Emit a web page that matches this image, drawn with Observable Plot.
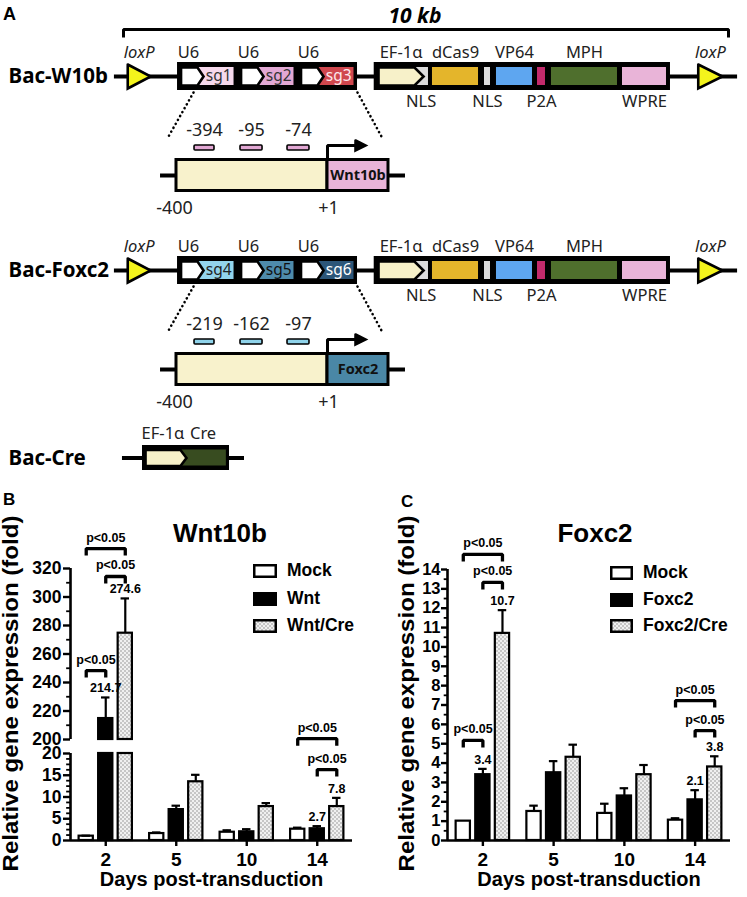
<!DOCTYPE html>
<html>
<head>
<meta charset="utf-8">
<script src="https://cdn.jsdelivr.net/npm/d3@7"></script>
<script src="https://cdn.jsdelivr.net/npm/@observablehq/plot@0.6"></script>
<style>
  html, body { margin: 0; padding: 0; background: #fff; }
  #page { position: relative; width: 747px; height: 897px; overflow: hidden; background: #fff; }
  #page svg.layer { position: absolute; left: 0; top: 0; }
  .lbl { position: absolute; white-space: nowrap; color: #000; line-height: 1; }
</style>
</head>
<body>
<svg width="0" height="0" style="position:absolute">
  <defs>
    <pattern id="dots" width="4" height="4" patternUnits="userSpaceOnUse">
      <rect width="4" height="4" fill="#c6c6c6"/>
      <circle cx="1" cy="1" r="1" fill="#fff"/>
      <circle cx="3" cy="3" r="1" fill="#fff"/>
    </pattern>
  </defs>
</svg>
<div id="page"></div>
<script>
// ======================= DATA =======================
// ---- Panel A: construct maps (x positions in kb along the 10 kb insert) ----
const insertSpanKb = [0, 10];
const insertLabel = "10 kb";
const constructNames = ["Bac-W10b", "Bac-Foxc2", "Bac-Cre"];
const backboneKb = [-0.15, 10.15];
const loxPKb = [[0.07, 0.45], [9.5, 9.9]];
const u6EdgesKb = [0.893, 1.885, 2.876, 3.868];
const sgNames = [["sg1", "sg2", "sg3"], ["sg4", "sg5", "sg6"]];
const effectorBoxKb = [4.144, 9.041];
const effectorNames   = ["EF-1α", "NLS", "dCas9", "NLS", "VP64", "P2A", "MPH", "WPRE"];
const effectorStartKb = [4.215, 4.80, 5.107, 5.967, 6.165, 6.843, 7.074, 8.248];
const effectorEndKb   = [4.96, 5.041, 5.868, 6.066, 6.76, 6.975, 8.165, 8.975];
const efNotchKb = 4.81;
const effectorLabelAbove = [true, false, true, false, true, false, true, false];
const targetGenes = ["Wnt10b", "Foxc2"];
const siteLabels = [["-394", "-95", "-74"], ["-219", "-162", "-97"]];
const siteKb = [[1.174, 1.504], [1.934, 2.298], [2.711, 3.074]];
const promoterEnds = ["-400", "+1"];
const promoterLineKb = [0.612, 4.661];
const promoterBoxKb = [0.876, 3.372];
const geneBoxKb = [3.372, 4.38];
const tssArrowKb = [3.835, 4.0];
const creLineKb = [-0.017, 2.0];
const creBoxKb = [0.314, 1.752];
const creArrowKb = [0.364, 0.942, 1.041];
const creGeneKb = [0.93, 1.70];
const creLabels = ["EF-1α", "Cre"];

// ---- Panels B & C: qPCR bars ----
const days = ["2", "5", "10", "14"];

const seriesB    = ["Mock", "Wnt", "Wnt/Cre"];
const mockB      = [1.0, 1.6, 1.9, 2.6];
const mockErrB   = [0.1, 0.25, 0.45, 0.35];
const wntB       = [214.7, 7.1, 2.0, 2.7];
const wntErrB    = [14.8, 0.9, 0.6, 0.6];
const wntCreB    = [274.6, 13.5, 7.8, 7.8];
const wntCreErrB = [24.4, 1.6, 0.8, 2.0];
const yTicksBLow  = [0, 5, 10, 15, 20];
const yMinorBLow  = [1.25, 2.5, 3.75, 6.25, 7.5, 8.75, 11.25, 12.5, 13.75, 16.25, 17.5, 18.75];
const yTicksBHigh = [200, 220, 240, 260, 280, 300, 320];
const yMinorBHigh = [210, 230, 250, 270, 290, 310];
const sigB = [
  {day: "2",  from: "Mock", to: "Wnt/Cre", level: 334},
  {day: "2",  from: "Wnt",  to: "Wnt/Cre", level: 314.4},
  {day: "2",  from: "Mock", to: "Wnt",     level: 248.4},
  {day: "14", from: "Mock", to: "Wnt/Cre", level: 23.4},
  {day: "14", from: "Wnt",  to: "Wnt/Cre", level: 16.3}
];
const labelledB = [["2", "Wnt"], ["2", "Wnt/Cre"], ["14", "Wnt"], ["14", "Wnt/Cre"]];

const seriesC      = ["Mock", "Foxc2", "Foxc2/Cre"];
const mockC        = [1.0, 1.5, 1.4, 1.05];
const mockErrC     = [0, 0.3, 0.5, 0.1];
const foxc2C       = [3.4, 3.5, 2.3, 2.1];
const foxc2ErrC    = [0.3, 0.6, 0.4, 0.5];
const foxc2CreC    = [10.7, 4.3, 3.4, 3.8];
const foxc2CreErrC = [1.2, 0.65, 0.5, 0.55];
const yTicksC = [0, 1, 2, 3, 4, 5, 6, 7, 8, 9, 10, 11, 12, 13, 14];
const yMinorC = [0.5, 1.5, 2.5, 3.5, 4.5, 5.5, 6.5, 7.5, 8.5, 9.5, 10.5, 11.5, 12.5, 13.5];
const sigC = [
  {day: "2",  from: "Mock",  to: "Foxc2/Cre", level: 14.78},
  {day: "2",  from: "Foxc2", to: "Foxc2/Cre", level: 13.33},
  {day: "2",  from: "Mock",  to: "Foxc2",     level: 5.17},
  {day: "14", from: "Mock",  to: "Foxc2/Cre", level: 7.23},
  {day: "14", from: "Foxc2", to: "Foxc2/Cre", level: 5.68}
];
const labelledC = [["2", "Foxc2"], ["2", "Foxc2/Cre"], ["14", "Foxc2"], ["14", "Foxc2/Cre"]];

const titleB = "Wnt10b", titleC = "Foxc2";
const yTitle = "Relative gene expression (fold)";
const xTitle = "Days post-transduction";
const sigText = "p<0.05";

// ======================= STYLE / LAYOUT =======================
const W = 747, H = 897;
const ARIAL = "'Liberation Sans', Arial, Helvetica, sans-serif";
const SANS = "'Noto Sans', 'Open Sans', sans-serif";
const FILLS = ["white", "black", "url(#dots)"];
const sgColors = [["#f6d9ec", "#e2a8d4", "#d0474e"], ["#93d4ec", "#4e8bab", "#2c5679"]];
const sgTextColors = [["#333", "#333", "#fde8ec"], ["#222", "#111", "#fff"]];
const effectorColors = ["#f7f1c9", "#dcdcdc", "#e4b52b", "#dcdcdc", "#5ea6f0", "#c32a6c", "#4f6f2d", "#e9b4d8"];
const geneColors = ["#e9b4d8", "#4a87a6"];
const siteColors = ["#e2a8d4", "#8fd3ea"];
const page = document.getElementById("page");

function addLayer(svg) { svg.classList.add("layer"); page.appendChild(svg); }
function label(text, {x, baseline, size, anchor = "start", weight = "bold", family = ARIAL}) {
  const d = document.createElement("div");
  d.className = "lbl";
  d.textContent = text;
  Object.assign(d.style, {fontSize: size + "px", fontWeight: weight, fontFamily: family,
    top: (baseline - 0.8465 * size) + "px"});
  if (anchor === "middle") { d.style.left = (x - 150) + "px"; d.style.width = "300px"; d.style.textAlign = "center"; }
  else d.style.left = x + "px";
  page.appendChild(d);
}

try {
// ======================= PANEL A =======================
function poly(id, pts, fill) { return pts.map(([x, y]) => ({id, x, y, fill})); }
function chevron(s, n, t, cy, h) { return [[s, cy - h], [n, cy - h], [t, cy], [n, cy + h], [s, cy + h], [s, cy - h]]; }

const RowY = [76, 270, 457.5], PROM = 99, BOX = 14, IN = 9, U = 0.058, labelColumnKb = -1.9;
const A = {backbone: [], boxes: [], inner: [], polys: [], outlined: [], markers: [], dotted: [], lines: [],
  up: [], upItalic: [], down: [], sg: [], gene: [], rowNames: [], site: []};

[0, 1].forEach(k => {
  const R = RowY[k], P = R + PROM;
  A.rowNames.push({y: R, text: constructNames[k]});
  A.backbone.push({y: R, x1: backboneKb[0], x2: backboneKb[1]});
  loxPKb.forEach(([a, b], q) => {
    A.polys.push(...poly(`lox${k}${q}`, [[a, R - 12], [b, R], [a, R + 12], [a, R - 12]], "#f4f41c"));
    A.upItalic.push({x: (a + b) / 2, y: R - 24, text: "loxP"});
  });
  A.boxes.push({x1: u6EdgesKb[0], x2: u6EdgesKb[3], y1: R - BOX, y2: R + BOX});
  for (let q = 0; q < 3; q++) {
    const c0 = u6EdgesKb[q], c1 = u6EdgesKb[q + 1];
    A.inner.push({x1: c0 + 0.30, x2: c1 - U, y1: R - IN, y2: R + IN, fill: sgColors[k][q]});
    A.polys.push(...poly(`u6${k}${q}`, chevron(c0 + U, c0 + 0.33, c0 + 0.43, R, IN), "white"));
    A.sg.push({x: c0 + 0.68, y: R, text: sgNames[k][q], fill: sgTextColors[k][q]});
    A.up.push({x: c0 + 0.18, y: R - 24, text: "U6"});
  }
  A.boxes.push({x1: effectorBoxKb[0], x2: effectorBoxKb[1], y1: R - BOX, y2: R + BOX});
  effectorNames.forEach((nm, q) => {
    const s = effectorStartKb[q], e = effectorEndKb[q];
    if (q === 0) A.polys.push(...poly(`ef${k}`, chevron(s, efNotchKb, e, R, IN), effectorColors[q]));
    else A.inner.push({x1: s, x2: e, y1: R - IN, y2: R + IN, fill: effectorColors[q]});
    if (effectorLabelAbove[q]) A.up.push({x: (s + e) / 2, y: R - 24, text: nm});
    else A.down.push({x: (s + e) / 2, y: R + 25, text: nm});
  });
  // promoter zoom
  A.backbone.push({y: P, x1: promoterLineKb[0], x2: promoterLineKb[1]});
  A.outlined.push({x1: promoterBoxKb[0], x2: promoterBoxKb[1], y1: P - 15.5, y2: P + 15.5, fill: "#f8f2cc"});
  A.outlined.push({x1: geneBoxKb[0], x2: geneBoxKb[1], y1: P - 15.5, y2: P + 15.5, fill: geneColors[k]});
  A.gene.push({x: (geneBoxKb[0] + geneBoxKb[1]) / 2, y: P, text: targetGenes[k]});
  siteKb.forEach(([a, b], q) => {
    A.markers.push({x1: a, x2: b, y1: P - 30, y2: P - 25, fill: siteColors[k]});
    A.site.push({x: (a + b) / 2, y: P - 45, text: siteLabels[k][q]});
  });
  A.site.push({x: promoterBoxKb[0] - 0.033, y: P + 33, text: promoterEnds[0]});
  A.site.push({x: geneBoxKb[0] + 0.016, y: P + 33, text: promoterEnds[1]});
  A.lines.push(...poly(`tss${k}`, [[geneBoxKb[0], P - 15.5], [geneBoxKb[0], P - 30], [tssArrowKb[0] + 0.01, P - 30]], null));
  A.polys.push(...poly(`head${k}`, [[tssArrowKb[0], P - 35], [tssArrowKb[1], P - 30], [tssArrowKb[0], P - 25], [tssArrowKb[0], P - 35]], "black"));
  A.dotted.push({x1: 1.157, y1: R + 16, x2: 0.744, y2: R + 60}, {x1: u6EdgesKb[3], y1: R + 16, x2: 4.264, y2: R + 60});
});
{
  const R = RowY[2];
  A.rowNames.push({y: R, text: constructNames[2]});
  A.backbone.push({y: R, x1: creLineKb[0], x2: creLineKb[1]});
  A.boxes.push({x1: creBoxKb[0], x2: creBoxKb[1], y1: R - 12.5, y2: R + 12.5});
  A.inner.push({x1: creGeneKb[0], x2: creGeneKb[1], y1: R - 8, y2: R + 8, fill: "#384c20"});
  A.polys.push(...poly("creef", chevron(creArrowKb[0], creArrowKb[1], creArrowKb[2], R, 8), "#f7f1c9"));
  A.up.push({x: (creArrowKb[0] + creArrowKb[1]) / 2, y: R - 24, text: creLabels[0]});
  A.up.push({x: (creGeneKb[0] + creGeneKb[1]) / 2, y: R - 24, text: creLabels[1]});
}
const scaleBar = poly("bar", [[insertSpanKb[0], 37], [insertSpanKb[0], 29], [insertSpanKb[1], 29], [insertSpanKb[1], 37]], null);

const plotA = Plot.plot({
  width: W, height: 480,
  marginLeft: 123, marginRight: 19, marginTop: 0, marginBottom: 0,
  x: {domain: insertSpanKb, axis: null},
  y: {domain: [480, 0], axis: null},
  color: {type: "identity"},
  style: {background: "transparent", overflow: "visible", fontFamily: SANS, color: "black"},
  marks: [
    Plot.line(scaleBar, {x: "x", y: "y", z: "id", strokeWidth: 3, strokeLinejoin: "miter", strokeLinecap: "butt"}),
    Plot.text([insertLabel], {x: (insertSpanKb[0] + insertSpanKb[1]) / 2, y: 16, dx: -11, text: d => d, fontSize: 21, fontWeight: "bold", fontStyle: "italic"}),
    Plot.ruleY(A.backbone, {y: "y", x1: "x1", x2: "x2", strokeWidth: 4}),
    Plot.link(A.dotted, {x1: "x1", y1: "y1", x2: "x2", y2: "y2", strokeWidth: 2.6, strokeDasharray: "0.1 4.4", strokeLinecap: "round"}),
    Plot.rect(A.boxes, {x1: "x1", x2: "x2", y1: "y1", y2: "y2", fill: "black"}),
    Plot.rect(A.inner, {x1: "x1", x2: "x2", y1: "y1", y2: "y2", fill: "fill"}),
    Plot.line(A.polys, {x: "x", y: "y", z: "id", fill: "fill", stroke: "black", strokeWidth: 2.6, strokeLinejoin: "miter", strokeMiterlimit: 4}),
    Plot.rect(A.outlined, {x1: "x1", x2: "x2", y1: "y1", y2: "y2", fill: "fill", stroke: "black", strokeWidth: 3}),
    Plot.rect(A.markers, {x1: "x1", x2: "x2", y1: "y1", y2: "y2", fill: "fill", stroke: "black", strokeWidth: 1.6, rx: 1}),
    Plot.line(A.lines, {x: "x", y: "y", z: "id", strokeWidth: 3, strokeLinejoin: "miter", strokeLinecap: "butt"}),
    Plot.text(A.rowNames, {x: labelColumnKb, y: "y", text: "text", textAnchor: "start", fontSize: 20.5, fontWeight: "bold"}),
    Plot.text(A.up, {x: "x", y: "y", text: "text", fontSize: 16.5, fill: "#222"}),
    Plot.text(A.upItalic, {x: "x", y: "y", text: "text", fontSize: 16.5, fontStyle: "italic", fill: "#222"}),
    Plot.text(A.down, {x: "x", y: "y", text: "text", fontSize: 16.5, fill: "#222"}),
    Plot.text(A.sg, {x: "x", y: "y", text: "text", fill: "fill", fontSize: 15.5}),
    Plot.text(A.gene, {x: "x", y: "y", text: "text", fontSize: 14.5, fontWeight: "bold", fill: "#111"}),
    Plot.text(A.site, {x: "x", y: "y", text: "text", fontSize: 18, fill: "#222"})
  ]
});
addLayer(plotA);

// ======================= PANELS B & C =======================
const OFF = 0.277, HALF = 0.101, CAP = 0.06;
const cx = r => r.i + (r.j - 1) * OFF;
function makeRows(series, vals, errs) {
  const out = [];
  days.forEach((d, i) => series.forEach((s, j) => out.push({day: d, i, series: s, j, v: vals[j][i], e: errs[j][i]})));
  return out;
}
const rowsB = makeRows(seriesB, [mockB, wntB, wntCreB], [mockErrB, wntErrB, wntCreErrB]);
const rowsC = makeRows(seriesC, [mockC, foxc2C, foxc2CreC], [mockErrC, foxc2ErrC, foxc2CreErrC]);

function segment(o) {
  const {frame, yDomain, rows, sig, sigMax, labelled, ticks, minor, tickSize, tickDx, tickFont} = o;
  const [lo, hi] = yDomain;
  const ppuX = (frame.right - frame.left) / 4;
  const ppuY = (frame.bottom - frame.top) / (hi - lo);
  const inSeg = v => v >= lo && v <= hi;
  const pick = (day, s) => rows.find(r => r.day === day && r.series === s);
  const bars = rows.filter(r => r.v > lo).map(r => ({...r, y1: lo, y2: Math.min(r.v, hi), fill: FILLS[r.j]}));
  const errs = rows.filter(r => r.e > 0 && inSeg(r.v));
  const lab = labelled.map(([d, s]) => pick(d, s)).filter(r => inSeg(r.v));
  const sigs = sig.filter(b => b.level >= lo && b.level < sigMax);
  const leg = 7 / ppuY;
  const brackets = sigs.flatMap((b, k) => {
    const a = cx(pick(b.day, b.from)), c = cx(pick(b.day, b.to));
    return [{id: k, x: a, y: b.level - leg}, {id: k, x: a, y: b.level}, {id: k, x: c, y: b.level}, {id: k, x: c, y: b.level - leg}];
  });
  const sigLabels = sigs.map(b => ({x: (cx(pick(b.day, b.from)) + cx(pick(b.day, b.to))) / 2, y: b.level}));
  const xAxis = o.xAxis ? [
    Plot.ruleY([lo], {x1: -0.5, x2: 3.5, strokeWidth: 2.6}),
    Plot.ruleX([0, 1, 2, 3], {x: d => d, y1: lo, y2: lo - 6 / ppuY, strokeWidth: 2.4}),
    Plot.text(days, {x: (d, i) => i, y: lo, dy: 19, text: d => d, fontSize: 19, fontWeight: "bold"}),
    Plot.text([xTitle], {frameAnchor: "bottom", dy: 45, text: d => d, fontSize: 20, fontWeight: "bold"})
  ] : [];
  // y title: anchored at its start (bottom end), reads upward
  const yTitleMark = o.yTitle ? [
    Plot.text([yTitle], {frameAnchor: "left", rotate: -90, textAnchor: "start", dx: o.yTitle.dx,
      dy: o.yTitle.bottom - (frame.top + frame.bottom) / 2, text: d => d, fontSize: 21.5, fontWeight: "bold"})
  ] : [];
  return Plot.plot({
    width: W, height: H,
    marginLeft: frame.left, marginRight: W - frame.right, marginTop: frame.top, marginBottom: H - frame.bottom,
    x: {domain: [-0.5, 3.5], axis: null},
    y: {domain: yDomain, axis: null},
    color: {type: "identity"},
    style: {background: "transparent", overflow: "visible", fontFamily: ARIAL, color: "black"},
    marks: [
      Plot.rect(bars, {x1: r => cx(r) - HALF, x2: r => cx(r) + HALF, y1: "y1", y2: "y2", fill: "fill", stroke: "black", strokeWidth: 2.2}),
      Plot.ruleX(errs, {x: cx, y1: "v", y2: r => r.v + r.e, strokeWidth: 2.2}),
      Plot.ruleY(errs, {y: r => r.v + r.e, x1: r => cx(r) - CAP, x2: r => cx(r) + CAP, strokeWidth: 2.2}),
      Plot.ruleX([-0.5], {x: d => d, y1: lo, y2: hi, strokeWidth: 2.6}),
      Plot.ruleY(ticks, {y: d => d, x1: -0.5 - tickSize / ppuX, x2: -0.5, strokeWidth: 2.4}),
      Plot.ruleY(minor, {y: d => d, x1: -0.5 - tickSize * 0.55 / ppuX, x2: -0.5, strokeWidth: 1.8}),
      Plot.text(ticks, {x: -0.5, y: d => d, text: d => String(d), textAnchor: "end", dx: tickDx, fontSize: tickFont, fontWeight: "bold"}),
      Plot.line(brackets, {x: "x", y: "y", z: "id", strokeWidth: 3.3, strokeLinejoin: "miter", strokeLinecap: "butt"}),
      Plot.text(sigLabels, {x: "x", y: "y", dy: -11, text: () => sigText, fontSize: 12.5, fontWeight: "bold"}),
      Plot.text(lab, {x: cx, y: r => r.v + r.e, dy: -9, text: r => r.v.toFixed(1), fontSize: 12.5, fontWeight: "bold"}),
      ...xAxis,
      ...yTitleMark
    ]
  });
}

addLayer(segment({
  frame: {left: 70, right: 352, top: 568, bottom: 739}, yDomain: [200, 320], rows: rowsB,
  sig: sigB, sigMax: Infinity, labelled: labelledB, ticks: yTicksBHigh, minor: yMinorBHigh,
  tickSize: 7, tickDx: -9, tickFont: 17.5, xAxis: false, yTitle: {dx: -59, bottom: 871}
}));
addLayer(segment({
  frame: {left: 70, right: 352, top: 753, bottom: 840}, yDomain: [0, 20], rows: rowsB,
  sig: sigB, sigMax: 200, labelled: labelledB, ticks: yTicksBLow, minor: yMinorBLow,
  tickSize: 7, tickDx: -9, tickFont: 17.5, xAxis: true, yTitle: null
}));
addLayer(segment({
  frame: {left: 447, right: 730, top: 569, bottom: 840}, yDomain: [0, 14], rows: rowsC,
  sig: sigC, sigMax: Infinity, labelled: labelledC, ticks: yTicksC, minor: yMinorC,
  tickSize: 6, tickDx: -7, tickFont: 16.5, xAxis: true, yTitle: {dx: -40, bottom: 871}
}));

d3.selectAll("#page text").filter(function () { return this.textContent === yTitle; })
  .attr("textLength", 356).attr("lengthAdjust", "spacingAndGlyphs");

// ======================= HTML labels & legends =======================
label("A", {x: 3, baseline: 20, size: 18});
label("B", {x: 3, baseline: 505, size: 17});
label("C", {x: 401, baseline: 507, size: 17});
label(titleB, {x: 220, baseline: 542, size: 26, anchor: "middle"});
label(titleC, {x: 595, baseline: 542, size: 26, anchor: "middle"});

function legend(series, swLeft, swW, cy0, step, textLeft) {
  const ns = "http://www.w3.org/2000/svg";
  series.forEach((s, j) => {
    const cy = cy0 + j * step;
    const sv = document.createElementNS(ns, "svg");
    sv.setAttribute("width", swW); sv.setAttribute("height", 14);
    Object.assign(sv.style, {position: "absolute", left: swLeft + "px", top: (cy - 7) + "px"});
    const r = document.createElementNS(ns, "rect");
    r.setAttribute("x", 1.25); r.setAttribute("y", 1.25);
    r.setAttribute("width", swW - 2.5); r.setAttribute("height", 11.5);
    r.setAttribute("fill", FILLS[j]); r.setAttribute("stroke", "black"); r.setAttribute("stroke-width", 2.5);
    sv.appendChild(r);
    page.appendChild(sv);
    label(s, {x: textLeft, baseline: cy + 6.3, size: 17.5});
  });
}
legend(seriesB, 253, 24, 571, 27.5, 287);
legend(seriesC, 610, 23, 573, 26.5, 643);
} catch (err) {
  const pre = document.createElement("pre");
  pre.textContent = String(err && err.stack || err);
  document.body.appendChild(pre);
  console.error(err);
}
</script>
</body>
</html>
